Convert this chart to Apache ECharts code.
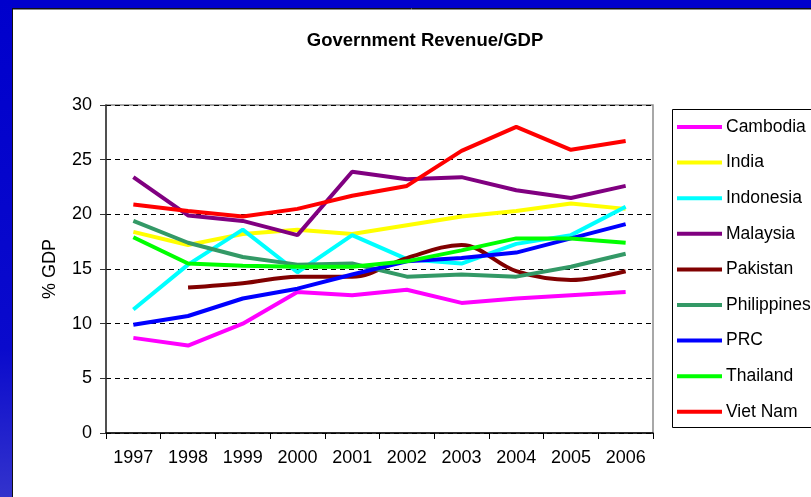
<!DOCTYPE html>
<html>
<head>
<meta charset="utf-8">
<title>Government Revenue/GDP</title>
<style>
    html, body { margin: 0; padding: 0; background: #fff; }
    #chart { width: 811px; height: 497px; }
</style>
<script src="https://cdn.jsdelivr.net/npm/echarts@6/dist/echarts.min.js"></script>
</head>
<body>
<div id="chart"></div>
<script>
    var years = ['1997', '1998', '1999', '2000', '2001', '2002', '2003', '2004', '2005', '2006'];
    var yTicks = [0, 5, 10, 15, 20, 25, 30];

    var cambodia    = [8.7, 8.0, 10.0, 12.9, 12.6, 13.1, 11.9, 12.3, 12.6, 12.9];
    var india       = [18.4, 17.2, 18.2, 18.6, 18.2, 19.0, 19.8, 20.3, 21.0, 20.5];
    var indonesia   = [11.3, 15.4, 18.6, 14.7, 18.1, 15.9, 15.5, 17.3, 18.1, 20.7];
    var malaysia    = [23.4, 19.9, 19.4, 18.1, 23.9, 23.2, 23.4, 22.2, 21.5, 22.6];
    var pakistan    = [null, 13.3, 13.7, 14.3, 14.3, 16.0, 17.2, 14.8, 14.0, 14.8];
    var philippines = [19.4, 17.4, 16.1, 15.4, 15.5, 14.3, 14.5, 14.3, 15.2, 16.4];
    var prc         = [9.9, 10.7, 12.3, 13.2, 14.5, 15.7, 16.0, 16.5, 17.8, 19.1];
    var thailand    = [17.9, 15.5, 15.3, 15.2, 15.2, 15.7, 16.7, 17.8, 17.8, 17.4];
    var vietnam     = [20.9, 20.3, 19.8, 20.5, 21.7, 22.6, 25.8, 28.0, 25.9, 26.7];

    var names  = ['Cambodia', 'India', 'Indonesia', 'Malaysia', 'Pakistan', 'Philippines', 'PRC', 'Thailand', 'Viet Nam'];
    var values = [cambodia, india, indonesia, malaysia, pakistan, philippines, prc, thailand, vietnam];
    var colors = ['#ff00ff', '#ffff00', '#00ffff', '#800080', '#800000', '#339966', '#0000ff', '#00ff00', '#ff0000'];

    var font = 'Liberation Sans, Arial, sans-serif';

    var series = names.map(function (n, i) {
        return {
            name: n,
            type: 'line',
            data: values[i],
            symbol: 'none',
            smooth: n === 'Pakistan' ? 0.35 : false,
            lineStyle: { width: 4, color: colors[i] },
            itemStyle: { color: colors[i] },
            z: 3 + i
        };
    });

    var chart = echarts.init(document.getElementById('chart'));
    chart.setOption({
        animation: false,
        backgroundColor: '#fff',
        title: {
            text: 'Government Revenue/GDP',
            left: 420, top: 26, textAlign: 'center',
            textStyle: { fontFamily: font, fontSize: 18.5, fontWeight: 'bold', color: '#000' }
        },
        grid: {
            left: 106, right: 158, top: 105, bottom: 64,
            show: true, borderColor: '#8c8c8c', borderWidth: 1.5
        },
        legend: {
            orient: 'vertical',
            left: 677, top: 117,
            padding: 0,
            icon: 'rect',
            itemWidth: 45, itemHeight: 4, itemGap: 15.6,
            textStyle: { fontFamily: font, fontSize: 17.5, color: '#000', lineHeight: 20, padding: [0, 0, 0, -1] },
            data: names
        },
        xAxis: {
            type: 'category',
            data: years,
            boundaryGap: true,
            axisLine: { lineStyle: { color: '#000', width: 1.5 } },
            axisTick: { show: true, length: 6, lineStyle: { color: '#000' } },
            axisLabel: { margin: 16, fontFamily: font, fontSize: 18, color: '#000' }
        },
        yAxis: {
            type: 'value',
            min: yTicks[0], max: yTicks[yTicks.length - 1], interval: 5,
            name: '% GDP',
            nameLocation: 'middle', nameRotate: 90, nameGap: 47,
            nameTextStyle: { fontFamily: font, fontSize: 18, color: '#000' },
            axisLine: { show: true, lineStyle: { color: '#333', width: 1.5 } },
            axisTick: { show: true, length: 6, lineStyle: { color: '#333' } },
            axisLabel: { margin: 14, fontFamily: font, fontSize: 18, color: '#000' },
            splitLine: { show: true, lineStyle: { color: '#000', type: [5, 4], width: 1 } }
        },
        graphic: [
            // slide frame
            { type: 'rect', shape: { x: 0, y: 0, width: 811, height: 8 }, style: { fill: '#0000cc' }, silent: true },
            { type: 'rect', shape: { x: 0, y: 0, width: 12, height: 497 },
              style: { fill: new echarts.graphic.LinearGradient(0, 0, 0, 1, [
                  { offset: 0, color: '#0000cc' }, { offset: 0.7, color: '#0a0acc' }, { offset: 1, color: '#3333cc' }]) },
              silent: true },
            { type: 'line', shape: { x1: 12, y1: 8.5, x2: 811, y2: 8.5 }, style: { stroke: '#111', lineWidth: 1 }, silent: true },
            { type: 'line', shape: { x1: 12, y1: 9.5, x2: 811, y2: 9.5 }, style: { stroke: '#888', lineWidth: 1 }, silent: true },
            { type: 'line', shape: { x1: 12.5, y1: 8, x2: 12.5, y2: 497 }, style: { stroke: '#111', lineWidth: 1 }, silent: true },
            // legend box
            { type: 'rect', shape: { x: 672.5, y: 109.5, width: 200, height: 318 },
              style: { fill: 'none', stroke: '#000', lineWidth: 1 }, silent: true }
        ],
        series: series
    });
</script>
</body>
</html>
